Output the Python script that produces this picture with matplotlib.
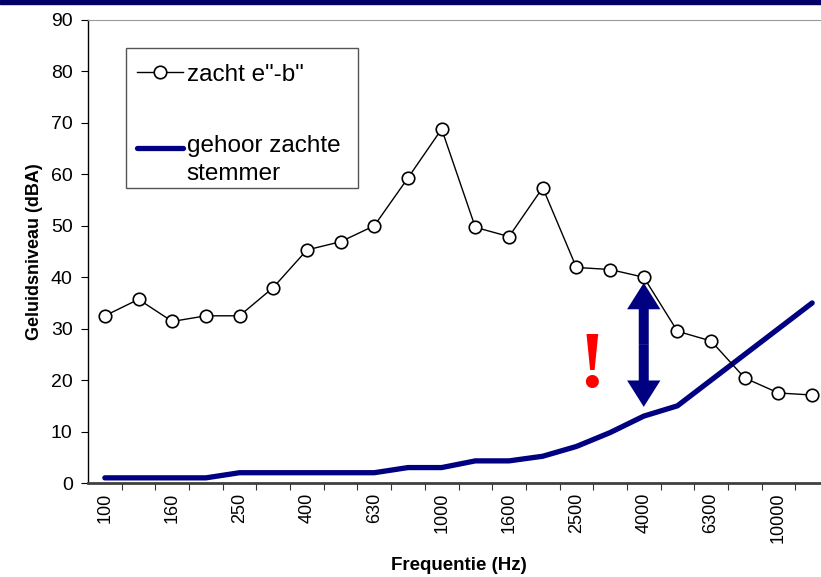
import matplotlib
matplotlib.use("Agg")
import matplotlib.pyplot as plt
from matplotlib.patches import Rectangle
from matplotlib.legend_handler import HandlerLine2D

plt.rcParams['font.family'] = ['Liberation Sans', 'DejaVu Sans']

# terts-band centre frequencies (Hz)
freqs = [100, 125, 160, 200, 250, 315, 400, 500, 630, 800, 1000,
         1250, 1600, 2000, 2500, 3150, 4000, 5000, 6300, 8000, 10000, 12500]
zacht = [32.5, 35.7, 31.4, 32.5, 32.5, 38.0, 45.3, 46.9, 50.0, 59.3, 68.8,
         49.7, 47.9, 57.4, 41.9, 41.5, 40.0, 29.5, 27.6, 20.4, 17.5, 17.1]
gehoor = [1, 1, 1, 1, 2, 2, 2, 2, 2, 3, 3,
          4.3, 4.3, 5.2, 7.1, 9.8, 13.0, 15.0, 20.0, 25.0, 30.0, 35.0]
yticks = list(range(0, 100, 10))

# double arrow at 4000 Hz between the two curves
arrow_freq = 4000
arrow_top = 38.9
arrow_bottom = 14.8
navy = '#000080'


# legend line lifted to the first line of a two-line label (Excel style)
class RaisedLine(HandlerLine2D):
    def create_artists(self, legend, orig_handle, xdescent, ydescent,
                       width, height, fontsize, trans):
        return super().create_artists(legend, orig_handle, xdescent,
                                      ydescent - 17, width, height,
                                      fontsize, trans)


fig = plt.figure(figsize=(8.21, 5.77), dpi=100)
ax = fig.add_axes([88/821, 1 - 483/577, 741/821, 463/577])

x = list(range(len(freqs)))
blue, = ax.plot(x, gehoor, color=navy, lw=3.8, solid_capstyle='round',
                label='gehoor zachte\nstemmer', zorder=2)
ax.plot(x, zacht, color='black', lw=1.0, marker='o', markersize=9,
        markerfacecolor='white', markeredgecolor='black', markeredgewidth=1.2,
        label='zacht e"-b"', zorder=3)

ai = freqs.index(arrow_freq)
mid = (arrow_top + arrow_bottom) / 2
for end in (arrow_top, arrow_bottom):
    ax.annotate('', xy=(ai, end), xytext=(ai, mid),
                arrowprops=dict(arrowstyle='simple,head_length=0.95,head_width=1.2,tail_width=0.36',
                                mutation_scale=20, lw=0, color=navy,
                                shrinkA=0, shrinkB=0),
                zorder=1)
ax.text(ai - 1.55, 22.4, '!', color='red', fontsize=58, fontweight='bold',
        family='Liberation Serif', ha='center', va='center')

ax.set_xlim(-0.5, len(freqs) - 0.5)
ax.set_ylim(0, 90)
ax.set_yticks(yticks)
ax.tick_params(axis='y', labelsize=14, direction='out', length=5, width=0.8,
               pad=6)

ax.set_xticks([i - 0.5 for i in range(1, len(freqs))], minor=False)
ax.set_xticklabels([])
ax.tick_params(axis='x', which='major', direction='out', length=5, width=0.8,
               color='#333333')
ax.set_xticks(x[::2], minor=True)
ax.set_xticklabels([str(f) for f in freqs[::2]], minor=True, rotation=90,
                   fontsize=13)
ax.tick_params(axis='x', which='minor', length=0, pad=7)

ax.spines['left'].set_linewidth(1.0)
ax.spines['bottom'].set_linewidth(2.0)
ax.spines['bottom'].set_color('#404040')
ax.spines['top'].set_color('#999999')
ax.spines['right'].set_visible(False)

ax.set_xlabel('Frequentie (Hz)', fontsize=13.5, fontweight='bold', labelpad=10)
ax.set_ylabel('Geluidsniveau (dBA)', fontsize=13, fontweight='bold', labelpad=6)

# legend frame drawn separately so the entries can sit like in Excel
legend_box = Rectangle((126/821, 1 - 188/577), 232/821, 140/577,
                       transform=fig.transFigure, facecolor='white',
                       edgecolor='#555555', lw=1.0, zorder=4, clip_on=False)
ax.add_patch(legend_box)

handles, labels = ax.get_legend_handles_labels()
leg = ax.legend(handles[::-1], labels[::-1], loc='upper left',
                bbox_to_anchor=(126/821, 1 - 53/577), bbox_transform=fig.transFigure,
                fontsize=17.5, frameon=False, handlelength=1.9,
                handletextpad=0.15, labelspacing=2.0, borderpad=0.45,
                borderaxespad=0, handler_map={blue: RaisedLine()})
leg.get_texts()[1].set_linespacing(1.35)
leg.set_zorder(6)

# navy band across the top of the slide
fig.patches.append(Rectangle((0, 1 - 4/577), 1, 4/577, transform=fig.transFigure,
                             color='#000066', zorder=5))

fig.savefig('out.png', dpi=100)
